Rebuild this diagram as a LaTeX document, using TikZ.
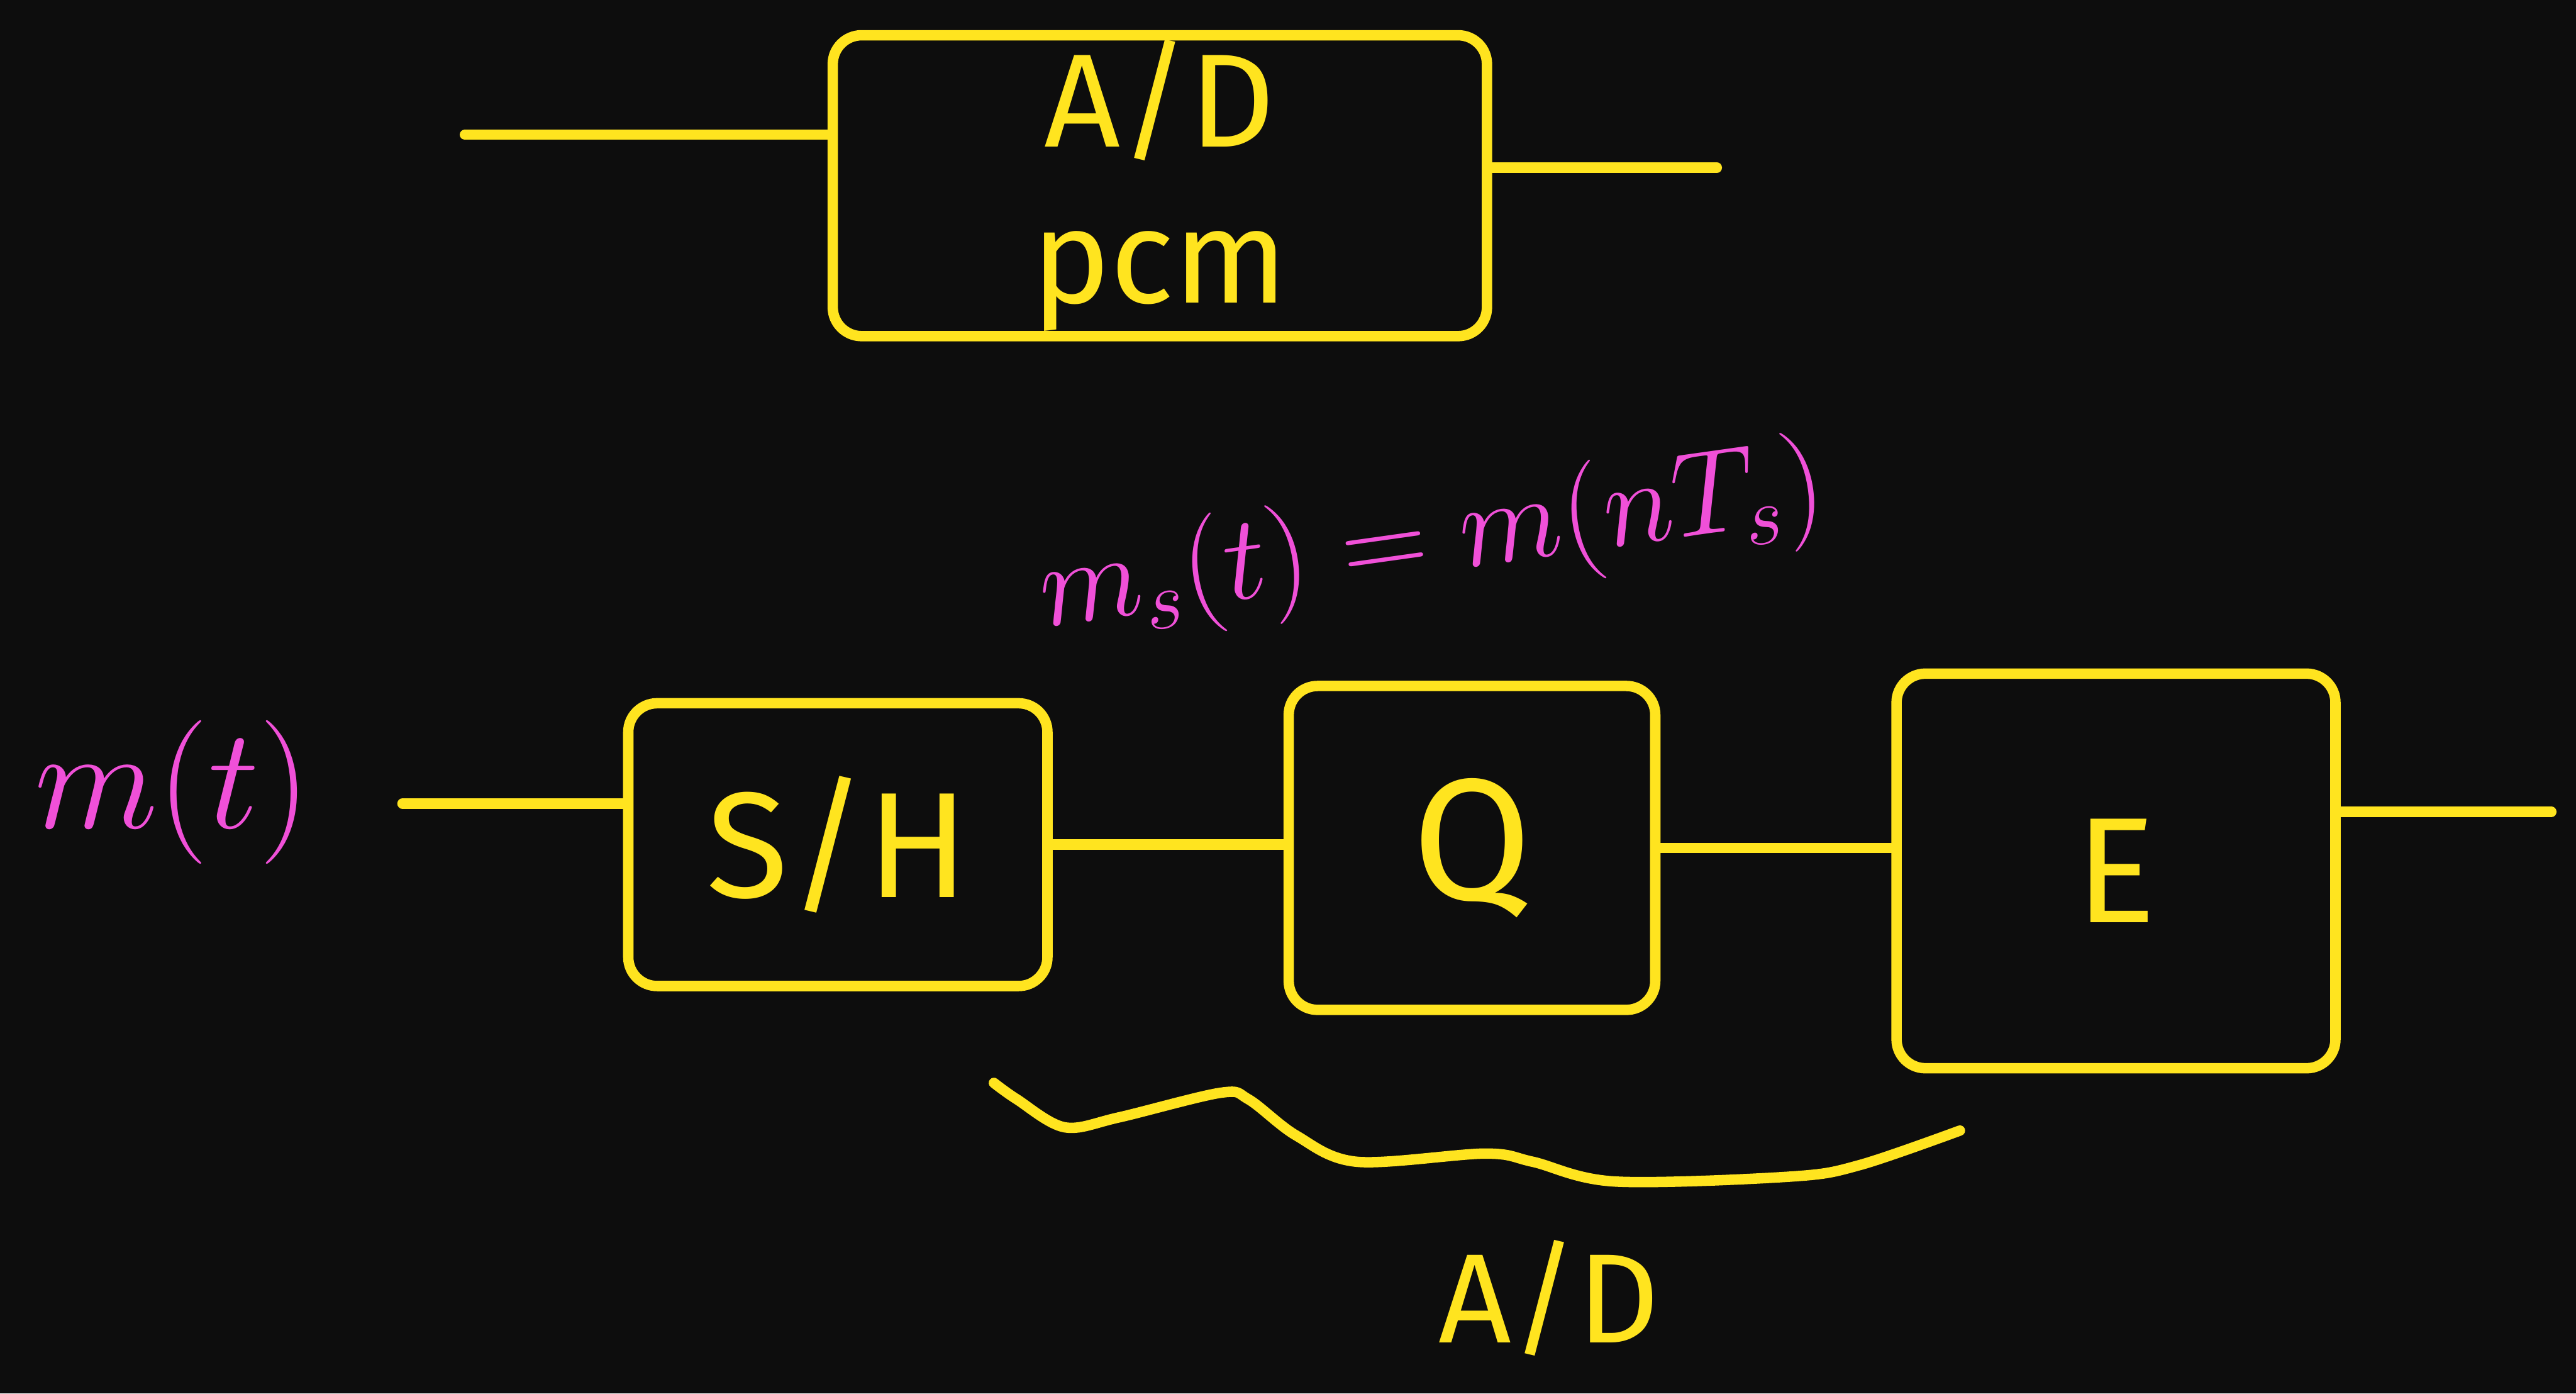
\documentclass[tikz,border=0pt]{standalone}
\usepackage{fontspec}
\setmainfont{Fira Sans}
\definecolor{bg}{HTML}{0D0D0D}
\definecolor{hy}{HTML}{FFE41F}
\definecolor{hp}{HTML}{F050D8}
\begin{document}
\begin{tikzpicture}[x=0.01cm,y=-0.01cm,
  pen/.style={draw=hy, line width=1.8pt, line cap=round, line join=round},
  blockbox/.style={pen, rounded corners=5pt, inner sep=0pt, text=hy},
  ylabel/.style={text=hy, inner sep=0pt},
  plabel/.style={text=hp, inner sep=0pt}]
\useasboundingbox (0,0) rectangle (1568,848);
\fill[bg] (0,0) rectangle (1568,848);

% top block
\node[blockbox, minimum width=3.98cm, minimum height=1.83cm, align=center,
      font=\fontsize{23}{27}\selectfont] (pcm) at (706,113) {A/D\\pcm};
\coordinate (tin) at (283,82);
\coordinate (tout) at (1045,102);
\draw[pen] (tin) -- (tin -| pcm.west);
\draw[pen] (pcm.east |- tout) -- (tout);

% chain
\node[blockbox, minimum width=2.55cm, minimum height=1.72cm,
      font=\fontsize{26}{26}\selectfont] (sh) at (510,514) {S/H};
\node[blockbox, minimum width=2.23cm, minimum height=1.97cm,
      font=\fontsize{30}{30}\selectfont] (q) at (896,516) {Q};
\node[blockbox, minimum width=2.67cm, minimum height=2.40cm,
      font=\fontsize{26}{26}\selectfont] (e) at (1288,530) {E};

\node[plabel, font=\fontsize{24}{24}\selectfont] (mt) at (105,482) {$m(t)$};
\coordinate (min) at (245,489);
\coordinate (eout) at (1553,494);
\draw[pen] (min) -- (min -| sh.west);
\draw[pen] (sh.east) -- (sh.east -| q.west);
\draw[pen] (q.east) -- (q.east -| e.west);
\draw[pen] (e.east |- eout) -- (eout);

% sampled signal label
\node[plabel, rotate=8, font=\fontsize{21}{21}\selectfont] (ms) at (872,330) {$m_s(t)=m(nT_s)$};

% wavy brace
\draw[pen] plot[smooth, tension=0.55] coordinates {(605,659) (619,669) (648,686) (681,680) (743,665) (760,669) (789,691) (826,707) (904,702) (933,707) (983,719) (1090,716) (1132,709) (1193,688)};

\node[ylabel, font=\fontsize{22}{22}\selectfont] (ad) at (943,790) {A/D};
\end{tikzpicture}
\end{document}
